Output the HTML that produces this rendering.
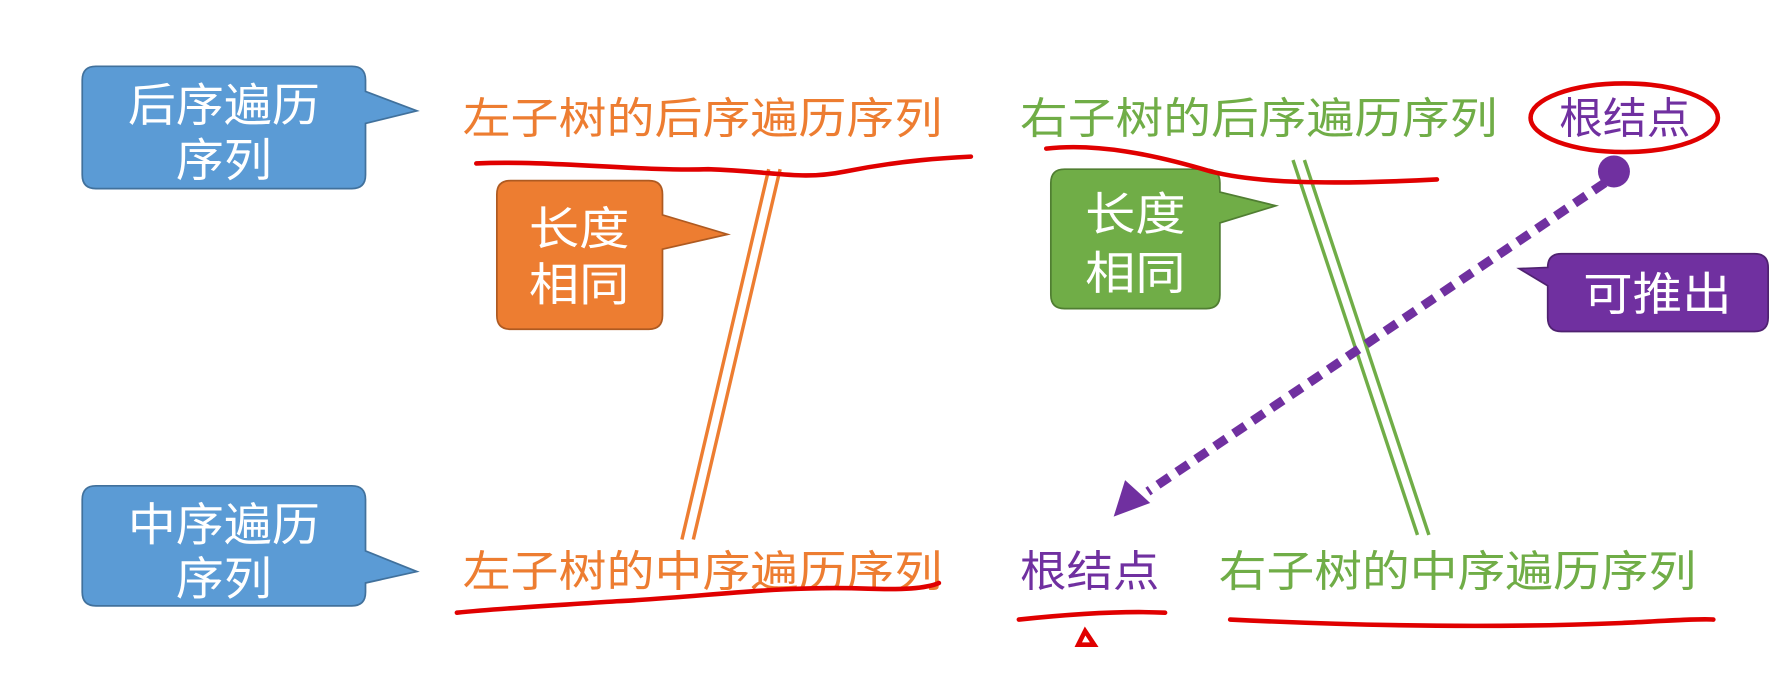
<!DOCTYPE html>
<html><head><meta charset="utf-8"><style>
html,body{margin:0;padding:0;background:#fff;}
svg{display:block;}
text{font-family:"Liberation Sans","Noto Sans CJK SC",sans-serif;}
</style></head><body>
<svg width="1791" height="687" viewBox="0 0 1568 601" preserveAspectRatio="none" xmlns="http://www.w3.org/2000/svg">
<path d="M84 58 H308 Q320 58 320 70 V80 L365 97 L320 108 V153 Q320 165 308 165 H84 Q72 165 72 153 V70 Q72 58 84 58 Z" fill="#5b9bd5" stroke="#41719c" stroke-width="1.5"/>
<text x="196" y="106" font-size="40" fill="#fff" text-anchor="middle" textLength="168" lengthAdjust="spacingAndGlyphs">后序遍历</text>
<text x="196" y="154" font-size="40" fill="#fff" text-anchor="middle" textLength="84" lengthAdjust="spacingAndGlyphs">序列</text>
<path d="M84 425 H308 Q320 425 320 437 V482 L365 500 L320 510 V518 Q320 530 308 530 H84 Q72 530 72 518 V437 Q72 425 84 425 Z" fill="#5b9bd5" stroke="#41719c" stroke-width="1.5"/>
<text x="196" y="473" font-size="40" fill="#fff" text-anchor="middle" textLength="168" lengthAdjust="spacingAndGlyphs">中序遍历</text>
<text x="196" y="520" font-size="40" fill="#fff" text-anchor="middle" textLength="84" lengthAdjust="spacingAndGlyphs">序列</text>
<path d="M447 158 H568 Q580 158 580 170 V188 L637 205 L580 218 V276 Q580 288 568 288 H447 Q435 288 435 276 V170 Q435 158 447 158 Z" fill="#ed7d31" stroke="#ae5a21" stroke-width="1.5"/>
<text x="507" y="214" font-size="40" fill="#fff" text-anchor="middle" textLength="88" lengthAdjust="spacingAndGlyphs">长度</text>
<text x="507" y="263" font-size="40" fill="#fff" text-anchor="middle" textLength="88" lengthAdjust="spacingAndGlyphs">相同</text>
<path d="M932 148 H1056 Q1068 148 1068 160 V168 L1117 180 L1068 195 V258 Q1068 270 1056 270 H932 Q920 270 920 258 V160 Q920 148 932 148 Z" fill="#70ad47" stroke="#507e32" stroke-width="1.5"/>
<text x="994" y="201" font-size="40" fill="#fff" text-anchor="middle" textLength="88" lengthAdjust="spacingAndGlyphs">长度</text>
<text x="994" y="253" font-size="40" fill="#fff" text-anchor="middle" textLength="88" lengthAdjust="spacingAndGlyphs">相同</text>
<path d="M1367 222 H1536 Q1548 222 1548 234 V278 Q1548 290 1536 290 H1367 Q1355 290 1355 278 V250 L1330 235 L1355 234 Q1355 222 1367 222 Z" fill="#7030a0" stroke="#4f2270" stroke-width="1.5"/>
<text x="1451" y="271" font-size="40" fill="#fff" text-anchor="middle" textLength="130" lengthAdjust="spacingAndGlyphs">可推出</text>
<text x="405" y="117" font-size="38" fill="#ed7d31" textLength="420" lengthAdjust="spacingAndGlyphs">左子树的后序遍历序列</text>
<text x="893" y="117" font-size="38" fill="#70ad47" textLength="418" lengthAdjust="spacingAndGlyphs">右子树的后序遍历序列</text>
<text x="1365" y="117" font-size="38" fill="#7030a0" textLength="115" lengthAdjust="spacingAndGlyphs">根结点</text>
<text x="405" y="513" font-size="38" fill="#ed7d31" textLength="420" lengthAdjust="spacingAndGlyphs">左子树的中序遍历序列</text>
<text x="893" y="513" font-size="38" fill="#7030a0" textLength="122" lengthAdjust="spacingAndGlyphs">根结点</text>
<text x="1067" y="513" font-size="38" fill="#70ad47" textLength="418" lengthAdjust="spacingAndGlyphs">右子树的中序遍历序列</text>
<g stroke="#ed7d31" stroke-width="3"><line x1="673" y1="148" x2="597" y2="472"/><line x1="683" y1="148" x2="607" y2="472"/></g>
<g stroke="#70ad47" stroke-width="3"><line x1="1132" y1="140" x2="1241" y2="468"/><line x1="1142" y1="140" x2="1251" y2="468"/></g>
<circle cx="1413" cy="150" r="14" fill="#7030a0"/>
<line x1="1405" y1="160" x2="1005" y2="430" stroke="#7030a0" stroke-width="8" stroke-dasharray="12 8"/>
<polygon points="975,452 985,420 1007,440" fill="#7030a0"/>
<g fill="none" stroke="#e00000" stroke-width="4" stroke-linecap="round">
<path d="M417 143 C480 140 560 150 620 148 C680 150 700 158 740 150 C790 140 830 138 850 137"/>
<path d="M916 130 C960 125 1010 135 1060 150 C1100 160 1160 162 1258 157"/>
<ellipse cx="1422" cy="103" rx="82" ry="30"/>
<path d="M400 536 C440 532 480 530 540 526 C620 522 680 512 760 515 C790 516 810 515 822 510"/>
<path d="M892 542 C930 538 980 534 1020 536"/>
<path d="M944 564 L950 552 L958 564 Z" stroke-width="4"/>
<path d="M1077 542 C1180 547 1300 550 1420 545 C1460 543 1490 541 1500 542"/>
</g>
</svg>
</body></html>
